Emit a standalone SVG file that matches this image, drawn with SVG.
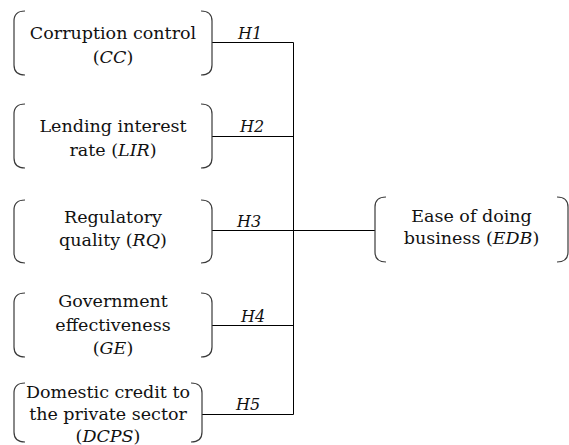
<svg xmlns="http://www.w3.org/2000/svg" width="569" height="445" viewBox="0 0 569 445">
<style>
.br{fill:none;stroke:#3a3a3a;stroke-width:1.2}
.t{font-family:"DejaVu Serif","Liberation Serif",serif;font-size:17.5px;fill:#111;text-anchor:middle}
.h{font-family:"DejaVu Serif","Liberation Serif",serif;font-size:16px;font-style:italic;fill:#111;text-anchor:middle}
.c{stroke:#000;stroke-width:1;fill:none}
</style>
<rect width="569" height="445" fill="#fff"/>
<g id="connectors">
<path class="c" d="M212 42.5H293.5V414.5H202M212 136.5H293.5M212 230.5H375M212 325.5H293.5"/>
<text class="h" x="250" y="39">H1</text>
<text class="h" x="252" y="132">H2</text>
<text class="h" x="249" y="227">H3</text>
<text class="h" x="253" y="322">H4</text>
<text class="h" x="248" y="410">H5</text>
</g>
<g id="CC">
<path class="br" d="M25 11Q14 11 14 21V65Q14 75 25 75M201 11Q212 11 212 21V65Q212 75 201 75"/>
<text class="t" x="113" y="39">Corruption control</text>
<text class="t" x="113" y="63">(<tspan font-style="italic">CC</tspan>)</text>
</g>
<g id="LIR">
<path class="br" d="M25 104Q14 104 14 114V158Q14 168 25 168M201 104Q212 104 212 114V158Q212 168 201 168"/>
<text class="t" x="113" y="132">Lending interest</text>
<text class="t" x="113" y="156">rate (<tspan font-style="italic">LIR</tspan>)</text>
</g>
<g id="RQ">
<path class="br" d="M25 200Q14 200 14 210V253Q14 263 25 263M201 200Q212 200 212 210V253Q212 263 201 263"/>
<text class="t" x="113" y="223">Regulatory</text>
<text class="t" x="113" y="246">quality (<tspan font-style="italic">RQ</tspan>)</text>
</g>
<g id="GE">
<path class="br" d="M25 293Q14 293 14 303V347Q14 357 25 357M201 293Q212 293 212 303V347Q212 357 201 357"/>
<text class="t" x="113" y="307">Government</text>
<text class="t" x="113" y="330.5">effectiveness</text>
<text class="t" x="113" y="354">(<tspan font-style="italic">GE</tspan>)</text>
</g>
<g id="DCPS">
<path class="br" d="M25 383Q14 383 14 393V432Q14 442 25 442M191 383Q202 383 202 393V432Q202 442 191 442"/>
<text class="t" x="108" y="398">Domestic credit to</text>
<text class="t" x="108" y="420">the private sector</text>
<text class="t" x="108" y="442">(<tspan font-style="italic">DCPS</tspan>)</text>
</g>
<g id="EDB">
<path class="br" d="M386 197Q375 197 375 207V252Q375 262 386 262M557 197Q568 197 568 207V252Q568 262 557 262"/>
<text class="t" x="471.5" y="222">Ease of doing</text>
<text class="t" x="471.5" y="244">business (<tspan font-style="italic">EDB</tspan>)</text>
</g>
</svg>
